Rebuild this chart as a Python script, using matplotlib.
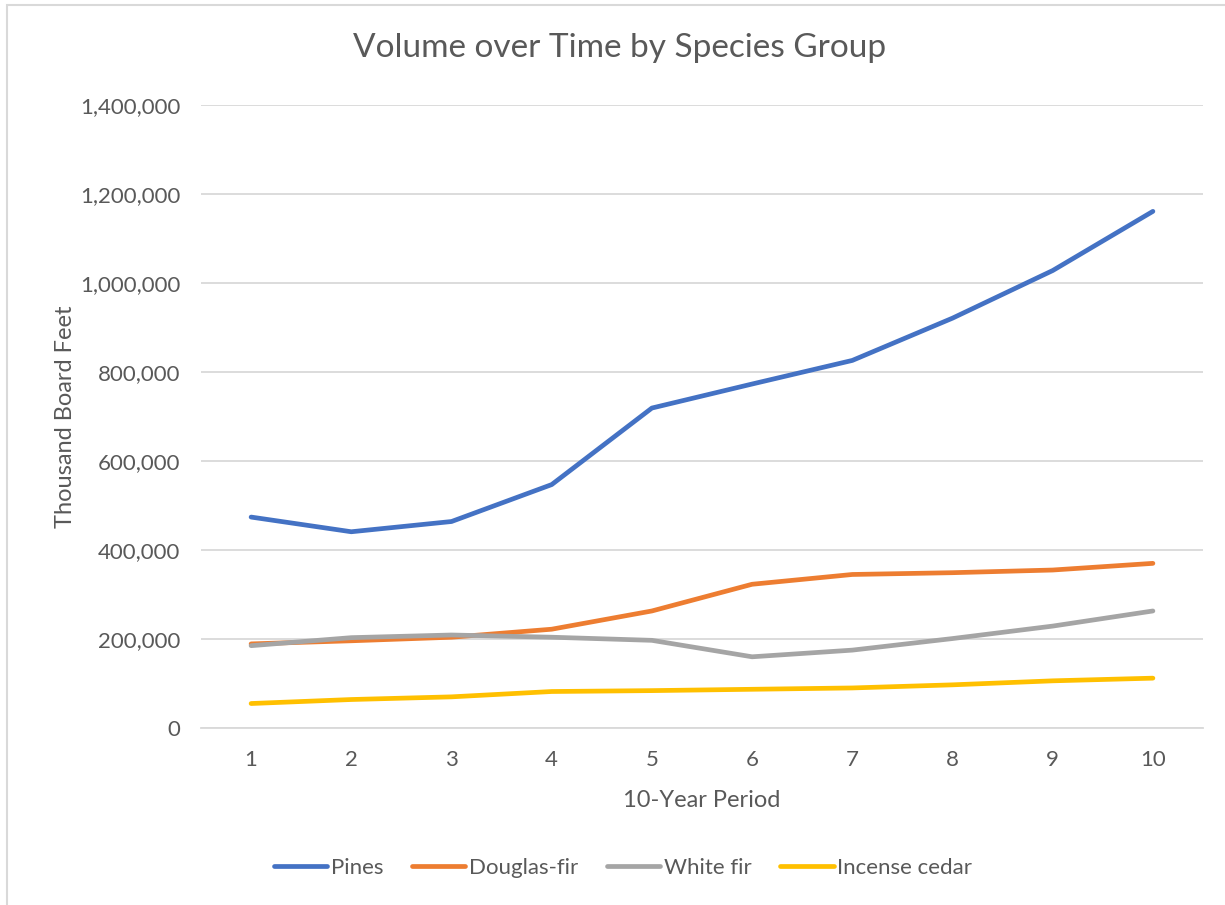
import numpy as np
import matplotlib.pyplot as plt
from matplotlib.patches import Rectangle
from matplotlib.ticker import FuncFormatter

# data
periods = [1, 2, 3, 4, 5, 6, 7, 8, 9, 10]
pines = [474000, 441000, 464000, 547000, 719000, 773000, 826000, 921000, 1028000, 1161000]
douglas_fir = [189000, 196000, 204000, 222000, 263000, 323000, 345000, 349000, 355000, 370000]
white_fir = [185000, 203000, 209000, 204000, 197000, 160000, 175000, 201000, 229000, 263000]
incense_cedar = [55000, 64000, 70000, 82000, 84000, 87000, 90000, 97000, 106000, 112000]

series = [("Pines", pines, "#4472C4"),
          ("Douglas-fir", douglas_fir, "#ED7D31"),
          ("White fir", white_fir, "#A5A5A5"),
          ("Incense cedar", incense_cedar, "#FFC000")]

txt = "#595959"
plt.rcParams['font.family'] = ['Lato', 'DejaVu Sans']

fig = plt.figure(figsize=(12.25, 9.05), dpi=100)
# chart area border (left and top visible)
fig.patches.append(Rectangle((7/1225, -0.01), 1.02, (905-5)/905 + 0.01, transform=fig.transFigure,
                             fill=False, edgecolor="#D9D9D9", lw=1.5))

ax = fig.add_axes([201/1225, 1-728/905, (1203-201)/1225, (728-105)/905])
for name, vals, col in series:
    ax.plot(periods, vals, color=col, lw=3.4, label=name, solid_capstyle='round', solid_joinstyle='round')

ax.set_xlim(0.5, 10.5)
ax.set_ylim(0, 1400000)
ax.set_xticks(periods)
ax.set_yticks(np.arange(0, 1400001, 200000))
ax.yaxis.set_major_formatter(FuncFormatter(lambda v, p: f"{int(v):,}"))
ax.grid(axis='y', color="#D9D9D9", lw=1.3)
ax.set_axisbelow(True)
for s in ['top', 'right', 'left']:
    ax.spines[s].set_visible(False)
ax.spines['bottom'].set_color("#D9D9D9")
ax.spines['bottom'].set_linewidth(1.3)
ax.tick_params(length=0, colors=txt, labelsize=16)
ax.tick_params(axis='y', pad=15)
ax.tick_params(axis='x', pad=16)

ax.set_xlabel("10-Year Period", fontsize=17, color=txt, labelpad=14)
ax.set_ylabel("Thousand Board Feet", fontsize=17, color=txt, labelpad=3)
fig.text(620/1225, 1-48/905, "Volume over Time by Species Group", ha='center', va='center',
         fontsize=24, color=txt)

fig.legend(loc='center', bbox_to_anchor=(623/1225, 1-868/905), ncol=4, frameon=False,
           fontsize=16, labelcolor=txt, handlelength=2.4, handletextpad=0.15, columnspacing=1.3)

fig.savefig("out.png", dpi=100, facecolor="white")
